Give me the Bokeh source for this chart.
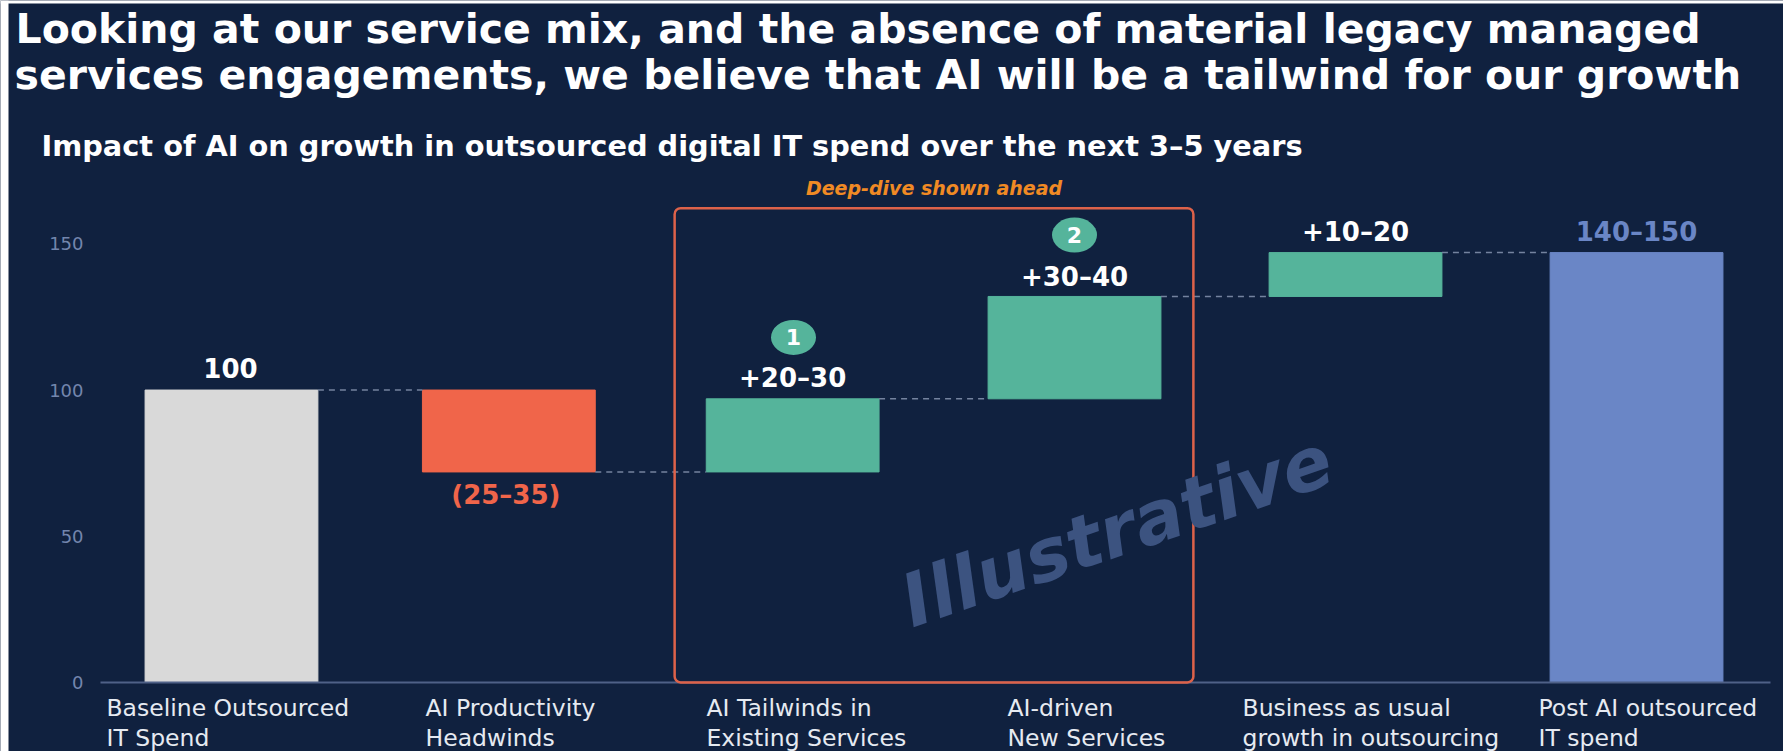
from bokeh.plotting import figure
from bokeh.models import (ColumnDataSource, Range1d, FixedTicker, LabelSet, Label, BoxAnnotation, LinearAxis)
from bokeh.core.properties import value
from bokeh.embed import file_html
from bokeh.resources import INLINE

# ---- data
categories = ["Baseline Outsourced\nIT Spend", "AI Productivity\nHeadwinds", "AI Tailwinds in\nExisting Services",
              "AI-driven\nNew Services", "Business as usual\ngrowth in outsourcing", "Post AI outsourced\nIT spend"]
bar_bottom = [0, 72, 72, 97, 132, 0]
bar_top = [100, 100, 97, 132, 147, 147]
value_labels = ["100", "(25–35)", "+20–30", "+30–40", "+10–20", "140–150"]
connector_level = [100, 72, 97, 132, 147]
y_ticks = [0, 50, 100, 150]
badges = ["1", "2"]
badge_x = [2, 3]
badge_y = [118, 153]

# ---- style / layout
BG = "#10213f"
GREEN = "#55b49b"
RED = "#f0654a"
GREY = "#d9d9d9"
BLUE = "#6a86c6"
FONT = "DejaVu Sans"
bar_colors = [GREY, RED, GREEN, GREEN, GREEN, BLUE]
label_colors = ["#ffffff", RED, "#ffffff", "#ffffff", "#ffffff", BLUE]
label_anchor = [100, 72, 97, 132, 147, 147]
label_offset = [12, -38, 6, 4, 6, 6]
label_x_offset = [-1, -3, 0, 0, 0, 0]
cat_offset = [-125, -87, -87, -67, -113, -98]
slots = [0, 0.987, 1.997, 3, 4, 5]
W, H = 1783, 751
BAR_W = 0.615

p = figure(width=W, height=H, output_backend="svg", toolbar_location=None,
           x_range=Range1d(-0.822, 5.523), y_range=Range1d(-23.6, 233.2),
           min_border=0, background_fill_color=BG, border_fill_color=BG, outline_line_color=None,
           x_axis_type=None, y_axis_type=None)
p.grid.visible = False

src = ColumnDataSource(dict(x=slots, bottom=bar_bottom, top=bar_top, color=bar_colors, cat=categories,
                            lab=value_labels, lc=label_colors, la=label_anchor, lo=label_offset, lx=label_x_offset))
p.vbar(x="x", bottom="bottom", top="top", width=BAR_W, color="color", source=src)

# connectors
p.segment(x0=[s + BAR_W / 2 for s in slots[:-1]], x1=[s - BAR_W / 2 for s in slots[1:]],
          y0=connector_level, y1=connector_level, line_color="#74839f", line_width=1.5, line_dash="6 5")

# axes
yax = LinearAxis(ticker=FixedTicker(ticks=y_ticks), fixed_location=-0.466, axis_line_color=None,
                 major_tick_line_color=None, minor_tick_line_color=None, major_label_text_color="#7386ad",
                 major_label_text_font=FONT, major_label_text_font_size="18px", major_label_standoff=11)
p.add_layout(yax, "left")
xax = LinearAxis(ticker=FixedTicker(ticks=[]), fixed_location=0, bounds=(-0.466, 5.477), axis_line_color="#4f6187",
                 axis_line_width=2, major_tick_line_color=None, minor_tick_line_color=None)
p.add_layout(xax, "below")

# highlight box
p.add_layout(BoxAnnotation(left=1.577, right=3.423, bottom=0, top=162.2, fill_alpha=0,
                           line_color="#dd624a", line_alpha=1, line_width=2.5, border_radius=6))

# value labels
p.add_layout(LabelSet(x="x", y="la", text="lab", x_offset="lx", y_offset="lo", text_color="lc", source=src,
                      text_align="center", text_baseline="bottom", text_font=value(FONT), text_font_style="bold",
                      text_font_size="26px"))
# category labels
for i, (c, o) in enumerate(zip(categories, cat_offset)):
    p.add_layout(Label(x=i, y=0, text=c, x_offset=o, y_offset=-12, text_align="left", text_baseline="top",
                       text_color="#e6eaf1", text_font=FONT, text_font_size="23.5px", text_line_height=1.06))

# badges
bsrc = ColumnDataSource(dict(x=badge_x, y=badge_y, t=badges))
p.ellipse(x="x", y="y", width=45, height=35, width_units="screen", height_units="screen",
          fill_color=GREEN, line_color=None, source=bsrc)
p.add_layout(LabelSet(x="x", y="y", text="t", source=bsrc, text_align="center", text_baseline="middle",
                      text_color="#ffffff", text_font=value(FONT), text_font_style="bold", text_font_size="22px"))

# watermark
p.add_layout(Label(x=3.15, y=52, text="Illustrative", text_color="#3c5380", text_font=FONT,
                   text_font_style="bold italic", text_font_size="73px", angle=19, angle_units="deg",
                   text_align="center", text_baseline="middle", level="overlay"))
p.add_layout(Label(x=2.5, y=163, text="Deep-dive shown ahead", text_color="#f08a24", text_font=FONT,
                   text_font_style="bold italic", text_font_size="19px", text_align="center",
                   text_baseline="bottom", y_offset=7))

# titles, placed in pixels
def scr(text, px, py, size):
    p.add_layout(Label(x=px, y=H - py, x_units="screen", y_units="screen", text=text, text_color="#ffffff",
                       text_font=FONT, text_font_style="bold", text_font_size=size,
                       text_align="left", text_baseline="middle"))

scr("Looking at our service mix, and the absence of material legacy managed", 15, 28, "41px")
scr("services engagements, we believe that AI will be a tailwind for our growth", 14, 74, "41px")
scr("Impact of AI on growth in outsourced digital IT spend over the next 3–5 years", 41, 145, "28.8px")

# white sliver at the reference's left and top edges
p.add_layout(BoxAnnotation(left=0, right=8, bottom=0, top=H, left_units="screen", right_units="screen",
                           top_units="screen", bottom_units="screen", fill_color="#ffffff", fill_alpha=1, line_alpha=0))
p.add_layout(BoxAnnotation(left=0, right=W, bottom=H - 3, top=H, left_units="screen", right_units="screen",
                           top_units="screen", bottom_units="screen", fill_color="#ffffff", fill_alpha=1, line_alpha=0))

open("out.html", "w").write(file_html(p, INLINE))
